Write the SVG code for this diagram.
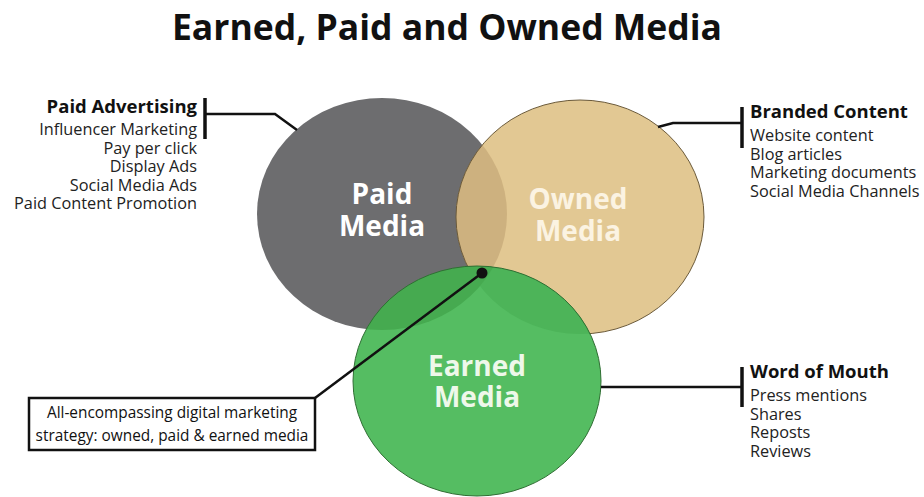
<svg xmlns="http://www.w3.org/2000/svg" width="924" height="497" viewBox="0 0 924 497">
  <style>
    text { font-family: "Open Sans", "Noto Sans", "Liberation Sans", sans-serif; }
    .title { font-size: 35.5px; font-weight: 700; fill: #111; }
    .head { font-size: 18.5px; font-weight: 700; fill: #111; }
    .item { font-size: 16.3px; fill: #222; }
    .big { font-size: 28px; font-weight: 700; text-anchor: middle; }
    .box { font-size: 15.4px; fill: #111; text-anchor: middle; }
    .wire { fill: none; stroke: #111; stroke-width: 2.5; }
    .bar { stroke: #111; stroke-width: 3.5; }
  </style>
  <defs>
    <ellipse id="paid-shape" cx="382" cy="214" rx="125" ry="116"/>
    <ellipse id="owned-shape" cx="580" cy="217" rx="124" ry="117"/>
    <ellipse id="earned-shape" cx="477" cy="381" rx="124" ry="115"/>
    <clipPath id="clip-paid"><use href="#paid-shape"/></clipPath>
    <clipPath id="clip-owned"><use href="#owned-shape"/></clipPath>
  </defs>
  <rect width="924" height="497" fill="#ffffff"/>

  <text class="title" x="447" y="40" text-anchor="middle">Earned, Paid and Owned Media</text>

  <g id="paid-media">
    <use href="#paid-shape" fill="#6d6d6f"/>
  </g>

  <g id="owned-media">
    <use href="#owned-shape" fill="#e2c893"/>
    <use href="#owned-shape" fill="#cdb17f" clip-path="url(#clip-paid)"/>
    <use href="#owned-shape" fill="none" stroke="#6b5a3a" stroke-width="1"/>
  </g>

  <g id="earned-media">
    <use href="#earned-shape" fill="#55bd62"/>
    <use href="#earned-shape" fill="#4db459" clip-path="url(#clip-owned)"/>
    <use href="#earned-shape" fill="#46aa50" clip-path="url(#clip-paid)"/>
    <use href="#earned-shape" fill="none" stroke="#2f6e33" stroke-width="1"/>
  </g>

  <g id="circle-labels">
    <text class="big" fill="#ffffff"><tspan x="382" y="204">Paid</tspan><tspan x="382" y="236">Media</tspan></text>
    <text class="big" fill="#fbf3e2"><tspan x="578" y="209">Owned</tspan><tspan x="578" y="241">Media</tspan></text>
    <text class="big" fill="#eef8ea"><tspan x="477" y="376">Earned</tspan><tspan x="477" y="407">Media</tspan></text>
  </g>

  <g id="paid-advertising">
    <text class="head" x="197" y="113" text-anchor="end">Paid Advertising</text>
    <text class="item" text-anchor="end"><tspan x="197" y="135">Influencer Marketing</tspan><tspan x="197" y="154">Pay per click</tspan><tspan x="197" y="172">Display Ads</tspan><tspan x="197" y="191">Social Media Ads</tspan><tspan x="197" y="209">Paid Content Promotion</tspan></text>
  </g>

  <g id="branded-content">
    <text class="head" x="750" y="118">Branded Content</text>
    <text class="item"><tspan x="750" y="141">Website content</tspan><tspan x="750" y="160">Blog articles</tspan><tspan x="750" y="178">Marketing documents</tspan><tspan x="750" y="197">Social Media Channels</tspan></text>
  </g>

  <g id="word-of-mouth">
    <text class="head" x="750" y="378">Word of Mouth</text>
    <text class="item"><tspan x="750" y="401">Press mentions</tspan><tspan x="750" y="420">Shares</tspan><tspan x="750" y="438">Reposts</tspan><tspan x="750" y="457">Reviews</tspan></text>
  </g>

  <g id="strategy-note">
    <rect x="29" y="398" width="286" height="52" fill="#ffffff" stroke="#111" stroke-width="2.5"/>
    <text class="box"><tspan x="172" y="418">All-encompassing digital marketing</tspan><tspan x="172" y="441">strategy: owned, paid &amp; earned media</tspan></text>
  </g>

  <g id="connectors">
    <line class="bar" x1="205" y1="98" x2="205" y2="139"/>
    <polyline class="wire" points="205,114 275,114 297,130"/>
    <line class="bar" x1="742" y1="107" x2="742" y2="148"/>
    <polyline class="wire" points="742,123 673,123 658,127"/>
    <line class="bar" x1="742" y1="367" x2="742" y2="407"/>
    <line class="wire" x1="601" y1="387" x2="742" y2="387"/>
    <line class="wire" x1="315" y1="398" x2="482" y2="273"/>
    <circle cx="482" cy="273" r="5.5" fill="#111"/>
  </g>
</svg>
